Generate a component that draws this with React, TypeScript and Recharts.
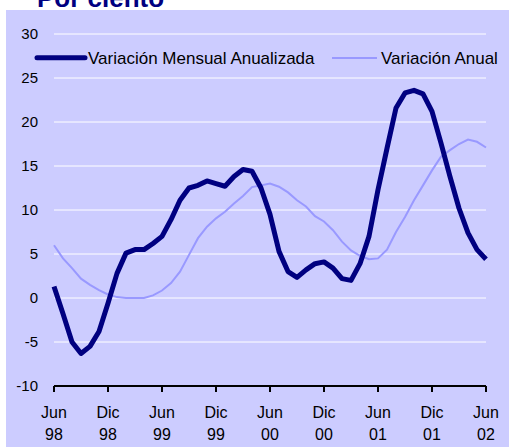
import React from 'react';
import { LineChart, Line, XAxis, YAxis, CartesianGrid } from 'recharts';

const months = [
  'Jun 98', 'Jul 98', 'Ago 98', 'Sep 98', 'Oct 98', 'Nov 98', 'Dic 98',
  'Ene 99', 'Feb 99', 'Mar 99', 'Abr 99', 'May 99', 'Jun 99', 'Jul 99', 'Ago 99', 'Sep 99', 'Oct 99', 'Nov 99', 'Dic 99',
  'Ene 00', 'Feb 00', 'Mar 00', 'Abr 00', 'May 00', 'Jun 00', 'Jul 00', 'Ago 00', 'Sep 00', 'Oct 00', 'Nov 00', 'Dic 00',
  'Ene 01', 'Feb 01', 'Mar 01', 'Abr 01', 'May 01', 'Jun 01', 'Jul 01', 'Ago 01', 'Sep 01', 'Oct 01', 'Nov 01', 'Dic 01',
  'Ene 02', 'Feb 02', 'Mar 02', 'Abr 02', 'May 02', 'Jun 02',
];

const mensualAnualizada = [
  1.3, -1.8, -5.0, -6.3, -5.5, -3.8, -0.6, 2.8, 5.1, 5.5, 5.5, 6.2, 7.0,
  8.9, 11.1, 12.5, 12.8, 13.3, 13.0, 12.7, 13.8, 14.6, 14.4, 12.5, 9.5,
  5.3, 3.0, 2.35, 3.2, 3.9, 4.1, 3.4, 2.2, 2.0, 3.9, 7.0, 12.3,
  17.0, 21.6, 23.3, 23.6, 23.2, 21.2, 17.6, 13.8, 10.2, 7.4, 5.5, 4.4,
];

const anual = [
  6.0, 4.5, 3.4, 2.2, 1.5, 0.9, 0.4, 0.1, 0.0, 0.0, 0.0, 0.3, 0.85,
  1.7, 3.0, 4.9, 6.8, 8.1, 9.05, 9.8, 10.75, 11.6, 12.6, 12.8, 13.0,
  12.65, 12.0, 11.1, 10.4, 9.3, 8.7, 7.7, 6.4, 5.4, 4.8, 4.4, 4.5,
  5.5, 7.5, 9.2, 11.1, 12.8, 14.5, 16.05, 16.8, 17.5, 18.0, 17.75, 17.1,
];

const yTicks = [-10, -5, 0, 5, 10, 15, 20, 25, 30];

const data = months.map((m, i) => ({ mes: m, mensual: mensualAnualizada[i], anual: anual[i] }));

const FONT = '"Liberation Sans", Arial, sans-serif';
const NAVY = '#000080';
const LIGHT = '#9999FF';

const MonthTick = (props: any) => {
  const { x, y, payload } = props;
  const [mes, anio] = String(payload.value).split(' ');
  return (
    <g>
      <text x={x} y={y + 24} textAnchor="middle" fontSize={16} fontFamily={FONT} fill="#000">{mes}</text>
      <text x={x} y={y + 46} textAnchor="middle" fontSize={16} fontFamily={FONT} fill="#000">{anio}</text>
    </g>
  );
};

export default function App() {
  return (
    <div style={{ position: 'absolute', left: 0, top: 0, width: 509, height: 447, background: '#fff', overflow: 'hidden' }}>
      <svg width={509} height={10} style={{ position: 'absolute', left: 0, top: 0 }}>
        <text x={37} y={7} fontSize={26} fontWeight="bold" fontFamily={FONT} fill={NAVY}>Por ciento</text>
      </svg>
      <div style={{ position: 'absolute', left: 6, top: 10, width: 503, height: 437, background: '#CCCCFF' }}>
        <LineChart width={503} height={437} data={data} margin={{ top: 24, right: 23, left: 0, bottom: 0 }}>
          <CartesianGrid vertical={false} stroke="#ffffff" strokeWidth={1} />
          <XAxis
            dataKey="mes"
            interval={5}
            height={61}
            axisLine={{ stroke: '#000', strokeWidth: 2 }}
            tickLine={{ stroke: '#000', strokeWidth: 2 }}
            tickSize={6}
            tick={<MonthTick />}
          />
          <YAxis
            domain={[-10, 30]}
            ticks={yTicks}
            width={48}
            axisLine={false}
            tickLine={false}
            tickMargin={10}
            tick={{ fontSize: 15, fontFamily: FONT, fill: '#000' }}
          />
          <Line type="linear" dataKey="anual" stroke={LIGHT} strokeWidth={2} dot={false} isAnimationActive={false} />
          <Line type="linear" dataKey="mensual" stroke={NAVY} strokeWidth={5} strokeLinejoin="round" dot={false} isAnimationActive={false} />
        </LineChart>
      </div>
      <svg width={509} height={30} style={{ position: 'absolute', left: 0, top: 45 }}>
        <line x1={37} y1={12.7} x2={85} y2={12.7} stroke={NAVY} strokeWidth={5} strokeLinecap="round" />
        <text x={88} y={18.8} fontSize={17} fontFamily={FONT} fill="#000">Variación Mensual Anualizada</text>
        <line x1={332} y1={13} x2={377} y2={13} stroke={LIGHT} strokeWidth={2} />
        <text x={381} y={18.8} fontSize={17} fontFamily={FONT} fill="#000">Variación Anual</text>
      </svg>
    </div>
  );
}
